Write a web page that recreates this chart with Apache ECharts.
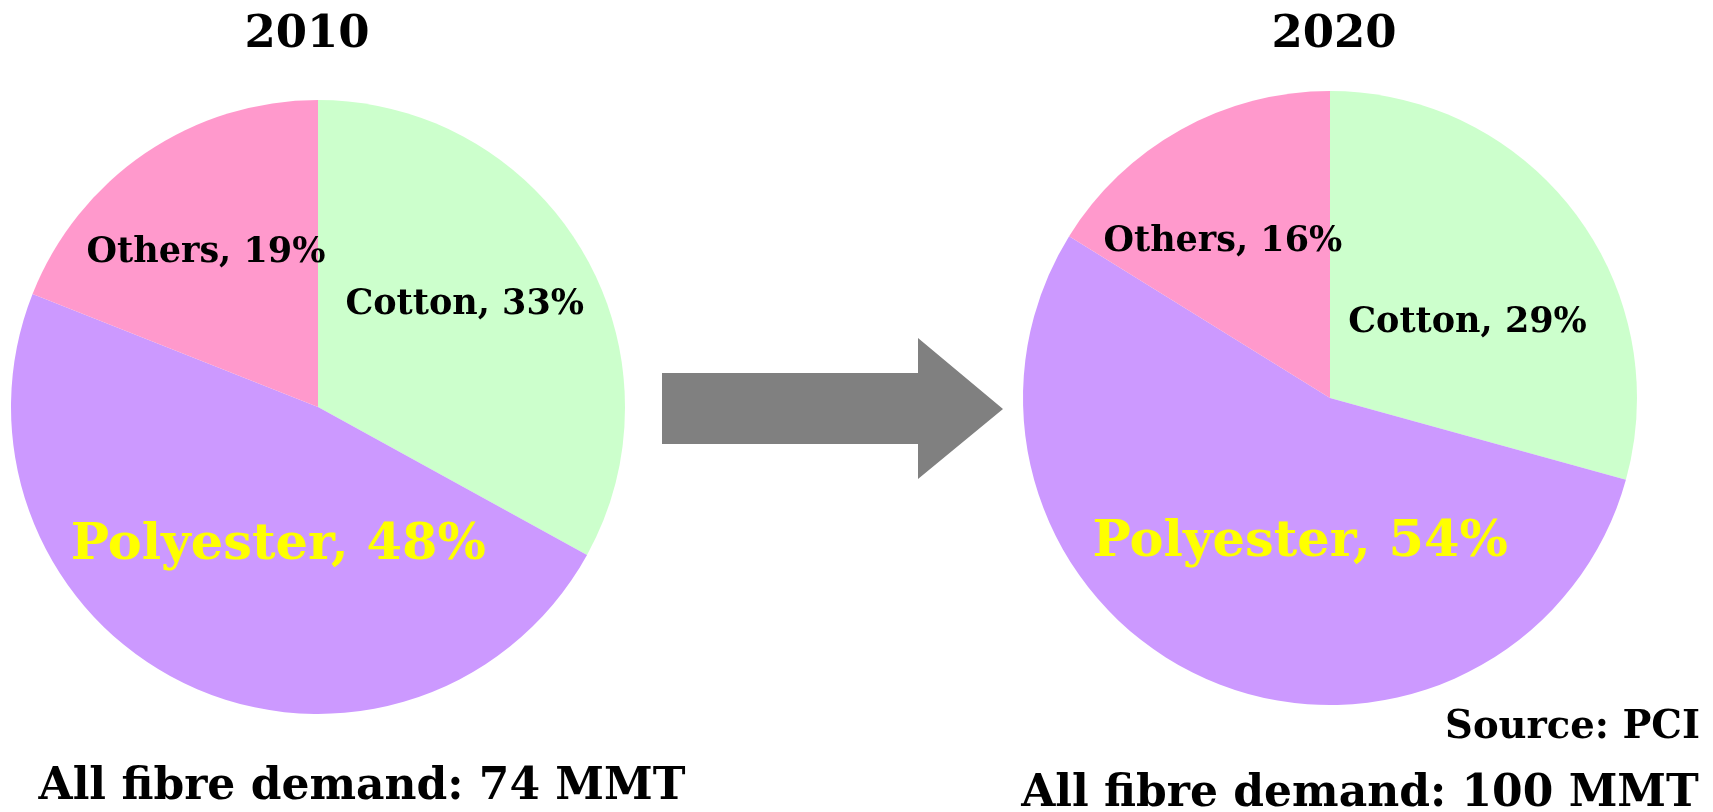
<!DOCTYPE html>
<html>
<head>
<meta charset="utf-8">
<script src="https://cdn.jsdelivr.net/npm/echarts@6/dist/echarts.min.js"></script>
<style>
  html, body { margin: 0; padding: 0; background: #fff; }
  #main { width: 1713px; height: 812px; }
</style>
</head>
<body>
<div id="main"></div>
<script>
// data
const fibres = ['Cotton', 'Polyester', 'Others']
const share2010 = [33, 48, 19]
const share2020 = [29, 54, 16]
const years = ['2010', '2020']
const totals = ['All fibre demand: 74 MMT', 'All fibre demand: 100 MMT']
const sourceText = 'Source: PCI'

const colors = ['#CCFFCC', '#CC99FF', '#FF99CC']
const font = '"DejaVu Serif", serif'

// nudge labels from the default inside spot to where the original puts them
const labelShift = [
  [[12, -22], [27, -3], [-24, -25]],
  [[13, 20], [33, 1], [-31, -19]]
]

function pieSeries(values, center, idx) {
  return {
    type: 'pie',
    center: center,
    radius: 307,
    startAngle: 90,
    clockwise: true,
    silent: true,
    itemStyle: { borderWidth: 0 },
    label: {
      show: true,
      position: 'inside',
      fontFamily: font,
      fontWeight: 'bold',
      fontSize: 35,
      color: '#000',
      formatter: p => p.name + ', ' + p.value + '%'
    },
    labelLine: { show: false },
    labelLayout: p => ({ dx: labelShift[idx][p.dataIndex][0], dy: labelShift[idx][p.dataIndex][1] }),
    data: fibres.map((name, i) => ({
      name: name,
      value: values[i],
      itemStyle: { color: colors[i] },
      label: name === 'Polyester' ? { color: '#FFFF00', fontSize: 51 } : {}
    }))
  }
}

const myChart = echarts.init(document.getElementById('main'))
myChart.setOption({
  backgroundColor: '#fff',
  animation: false,
  graphic: [
    // arrow
    {
      type: 'polygon',
      shape: {
        points: [[662, 373], [918, 373], [918, 338], [1003, 409], [918, 479], [918, 444], [662, 444]]
      },
      style: { fill: '#808080' }
    },
    { type: 'text', x: 307, y: 35, style: { text: years[0], font: 'bold 45px ' + font, fill: '#000', textAlign: 'center', textVerticalAlign: 'middle' } },
    { type: 'text', x: 1334, y: 35, style: { text: years[1], font: 'bold 45px ' + font, fill: '#000', textAlign: 'center', textVerticalAlign: 'middle' } },
    { type: 'text', x: 1700, y: 728, style: { text: sourceText, font: 'bold 38.5px ' + font, fill: '#000', textAlign: 'right', textVerticalAlign: 'middle' } },
    { type: 'text', x: 362, y: 788, style: { text: totals[0], font: 'bold 44px ' + font, fill: '#000', textAlign: 'center', textVerticalAlign: 'middle' } },
    { type: 'text', x: 1360, y: 795, style: { text: totals[1], font: 'bold 44px ' + font, fill: '#000', textAlign: 'center', textVerticalAlign: 'middle' } }
  ],
  series: [
    pieSeries(share2010, [318, 407], 0),
    pieSeries(share2020, [1330, 398], 1)
  ]
})
</script>
</body>
</html>
